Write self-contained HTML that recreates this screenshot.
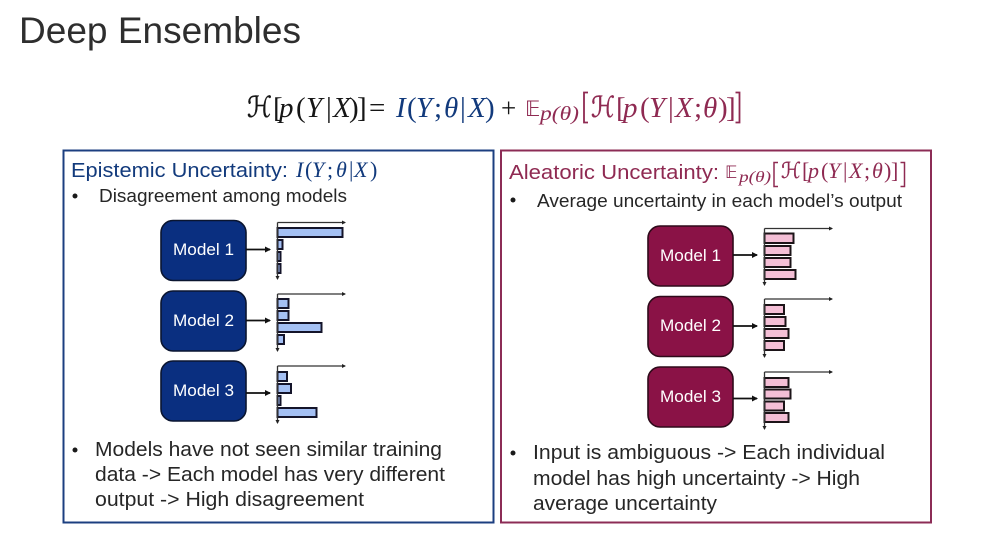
<!DOCTYPE html>
<html><head><meta charset="utf-8"><style>
html,body{margin:0;padding:0;background:#fff}
svg{display:block}
text{font-family:"Liberation Sans",sans-serif}
.m{font-family:"Liberation Serif",serif;font-style:italic}
.u{font-family:"Liberation Serif",serif}
.d{font-family:"DejaVu Sans",sans-serif}
.b{fill:#262626;font-size:20px}
.s{fill:#262626;font-size:18px}
.w{fill:#fff;font-size:17px}
</style></head><body>
<svg width="1000" height="553" viewBox="0 0 1000 553" xmlns="http://www.w3.org/2000/svg">
<defs>
<marker id="a" markerWidth="7" markerHeight="7" refX="5" refY="3" orient="auto" markerUnits="userSpaceOnUse"><path d="M0 0L6 3L0 6z" fill="#111"/></marker>
<marker id="t" markerWidth="5" markerHeight="5" refX="3" refY="2" orient="auto" markerUnits="userSpaceOnUse"><path d="M0 0L4 2L0 4z" fill="#222"/></marker>
</defs>
<rect width="1000" height="553" fill="#fff"/>
<text x="19" y="43" font-size="37" fill="#2e2e2e" textLength="282" lengthAdjust="spacingAndGlyphs">Deep Ensembles</text>

<!-- equation -->
<text x="247" y="117" font-size="29" class="u" fill="#161616" stroke="#161616" stroke-width=".4" textLength="25" lengthAdjust="spacingAndGlyphs">ℋ</text>
<text y="117" font-size="29" fill="#161616">
<tspan x="273" class="u">[</tspan><tspan x="279" class="m">p</tspan><tspan x="296" class="u">(</tspan><tspan x="306" class="m">Y</tspan><tspan x="326" class="u">|</tspan><tspan x="333" class="m">X</tspan><tspan x="349" class="u">)</tspan><tspan x="357" class="u">]</tspan><tspan x="369" class="u">=</tspan>
</text>
<text y="117" font-size="29" fill="#123a7c">
<tspan x="396" class="m">I</tspan><tspan x="407" class="u">(</tspan><tspan x="416" class="m">Y</tspan><tspan x="434" class="u">;</tspan><tspan x="444" class="m">θ</tspan><tspan x="460" class="u">|</tspan><tspan x="468" class="m">X</tspan><tspan x="485" class="u">)</tspan>
</text>
<text x="501" y="117" font-size="27" class="u" fill="#161616">+</text>
<text x="525" y="116" font-size="21" class="d" fill="#8f2a52">𝔼</text>
<text x="540" y="120" font-size="20" class="m" fill="#8f2a52" textLength="39" lengthAdjust="spacingAndGlyphs">p(θ)</text>
<text x="591" y="117" font-size="29" class="u" fill="#8f2a52" stroke="#8f2a52" stroke-width=".4" textLength="24" lengthAdjust="spacingAndGlyphs">ℋ</text>
<text y="117" font-size="29" fill="#8f2a52">
<tspan x="616" class="u">[</tspan><tspan x="623" class="m">p</tspan><tspan x="640" class="u">(</tspan><tspan x="649" class="m">Y</tspan><tspan x="668" class="u">|</tspan><tspan x="675" class="m">X</tspan><tspan x="694" class="u">;</tspan><tspan x="703" class="m">θ</tspan><tspan x="718" class="u">)</tspan><tspan x="726" class="u">]</tspan>
</text>
<path d="M588 92.5h-4v30h4M735.5 92.5h4v30h-4" fill="none" stroke="#8f2a52" stroke-width="1.8"/>

<!-- boxes -->
<rect x="63.5" y="150.5" width="430" height="372" fill="none" stroke="#1c3f80" stroke-width="2"/>
<rect x="501" y="150.5" width="430" height="372" fill="none" stroke="#8c2c56" stroke-width="2"/>

<!-- left text -->
<text x="71" y="177" font-size="20" fill="#123a7c" textLength="217" lengthAdjust="spacingAndGlyphs">Epistemic Uncertainty:</text>
<text y="177" font-size="22" fill="#123a7c"><tspan x="296" class="m">I</tspan><tspan x="305" class="u">(</tspan><tspan x="312" class="m">Y</tspan><tspan x="327" class="u">;</tspan><tspan x="336" class="m">θ</tspan><tspan x="349" class="u">|</tspan><tspan x="354" class="m">X</tspan><tspan x="370" class="u">)</tspan></text>
<circle cx="75" cy="196" r="2.5" fill="#1a1a1a"/>
<text x="99" y="202" class="s" textLength="248" lengthAdjust="spacingAndGlyphs">Disagreement among models</text>
<circle cx="75" cy="450" r="2.5" fill="#1a1a1a"/>
<text x="95" y="456" class="b" textLength="347" lengthAdjust="spacingAndGlyphs">Models have not seen similar training</text>
<text x="95" y="481" class="b" textLength="350" lengthAdjust="spacingAndGlyphs">data -&gt; Each model has very different</text>
<text x="95" y="506" class="b" textLength="269" lengthAdjust="spacingAndGlyphs">output -&gt; High disagreement</text>

<!-- right text -->
<text x="509" y="179" font-size="20" fill="#8f2a52" textLength="210" lengthAdjust="spacingAndGlyphs">Aleatoric Uncertainty:</text>
<text x="725" y="178" font-size="17" class="d" fill="#8f2a52">𝔼</text>
<text x="739" y="182" font-size="16" class="m" fill="#8f2a52" textLength="32" lengthAdjust="spacingAndGlyphs">p(θ)</text>
<path d="M778 162.5h-4v24h4M900.5 162.5h4v24h-4" fill="none" stroke="#8f2a52" stroke-width="1.5"/>
<text x="781" y="178" font-size="22" class="u" fill="#8f2a52" stroke="#8f2a52" stroke-width=".3" textLength="20" lengthAdjust="spacingAndGlyphs">ℋ</text>
<text y="178" font-size="22" fill="#8f2a52"><tspan x="802" class="u">[</tspan><tspan x="808" class="m">p</tspan><tspan x="821" class="u">(</tspan><tspan x="828" class="m">Y</tspan><tspan x="843" class="u">|</tspan><tspan x="849" class="m">X</tspan><tspan x="864" class="u">;</tspan><tspan x="872" class="m">θ</tspan><tspan x="884" class="u">)</tspan><tspan x="891" class="u">]</tspan></text>
<circle cx="513" cy="200" r="2.5" fill="#1a1a1a"/>
<text x="537" y="207" class="s" textLength="365" lengthAdjust="spacingAndGlyphs">Average uncertainty in each model’s output</text>
<circle cx="513" cy="453" r="2.5" fill="#1a1a1a"/>
<text x="533" y="459" class="b" textLength="352" lengthAdjust="spacingAndGlyphs">Input is ambiguous -&gt; Each individual</text>
<text x="533" y="485" class="b" textLength="327" lengthAdjust="spacingAndGlyphs">model has high uncertainty -&gt; High</text>
<text x="533" y="510" class="b" textLength="184" lengthAdjust="spacingAndGlyphs">average uncertainty</text>

<!-- left models -->
<g fill="#0a2f80" stroke="#0a1530" stroke-width="1.6">
<rect x="161" y="220.5" width="85" height="60" rx="12"/>
<rect x="161" y="291" width="85" height="60" rx="12"/>
<rect x="161" y="361" width="85" height="60" rx="12"/>
</g>
<text x="173" y="255" class="w" textLength="61" lengthAdjust="spacingAndGlyphs">Model 1</text>
<text x="173" y="326" class="w" textLength="61" lengthAdjust="spacingAndGlyphs">Model 2</text>
<text x="173" y="396" class="w" textLength="61" lengthAdjust="spacingAndGlyphs">Model 3</text>
<g stroke="#111" stroke-width="1.7" fill="none">
<line x1="246" y1="249.5" x2="270" y2="249.5" marker-end="url(#a)"/>
<line x1="246" y1="320.5" x2="270" y2="320.5" marker-end="url(#a)"/>
<line x1="246" y1="393" x2="270" y2="393" marker-end="url(#a)"/>
</g>
<g fill="#a4c0f4" stroke="#14142a" stroke-width="2">
<rect x="277.5" y="228" width="65" height="9"/><rect x="277.5" y="240" width="5" height="9"/><rect x="277.5" y="252" width="3" height="9"/><rect x="277.5" y="264" width="3" height="9"/>
<rect x="277.5" y="299" width="11" height="9"/><rect x="277.5" y="311" width="11" height="9"/><rect x="277.5" y="323" width="44" height="9"/><rect x="277.5" y="335" width="6.5" height="9"/>
<rect x="277.5" y="372" width="9.5" height="9"/><rect x="277.5" y="384" width="13.5" height="9"/><rect x="277.5" y="396" width="3" height="9"/><rect x="277.5" y="408" width="39" height="9"/>
</g>
<g stroke="#333" stroke-width="1.3" fill="none">
<path d="M277.5 222.5H345" marker-end="url(#t)"/><path d="M277.5 222.5V279" marker-end="url(#t)"/>
<path d="M277.5 294H345" marker-end="url(#t)"/><path d="M277.5 294V351" marker-end="url(#t)"/>
<path d="M277.5 366H345" marker-end="url(#t)"/><path d="M277.5 366V423" marker-end="url(#t)"/>
</g>

<!-- right models -->
<g fill="#8a1246" stroke="#2e0a1a" stroke-width="1.6">
<rect x="648" y="226" width="85" height="60" rx="12"/>
<rect x="648" y="296.5" width="85" height="60" rx="12"/>
<rect x="648" y="367" width="85" height="60" rx="12"/>
</g>
<text x="660" y="261" class="w" textLength="61" lengthAdjust="spacingAndGlyphs">Model 1</text>
<text x="660" y="331" class="w" textLength="61" lengthAdjust="spacingAndGlyphs">Model 2</text>
<text x="660" y="402" class="w" textLength="61" lengthAdjust="spacingAndGlyphs">Model 3</text>
<g stroke="#111" stroke-width="1.7" fill="none">
<line x1="733" y1="255" x2="757" y2="255" marker-end="url(#a)"/>
<line x1="733" y1="326" x2="757" y2="326" marker-end="url(#a)"/>
<line x1="733" y1="398.5" x2="757" y2="398.5" marker-end="url(#a)"/>
</g>
<g fill="#f4bfd6" stroke="#1c1418" stroke-width="2">
<rect x="764.5" y="233.5" width="29" height="9.5"/><rect x="764.5" y="246" width="26" height="9"/><rect x="764.5" y="258" width="26" height="9"/><rect x="764.5" y="270" width="31" height="9"/>
<rect x="764.5" y="305" width="19.5" height="9"/><rect x="764.5" y="317" width="21" height="9"/><rect x="764.5" y="329" width="24" height="9"/><rect x="764.5" y="341" width="19.5" height="9"/>
<rect x="764.5" y="378" width="24" height="9"/><rect x="764.5" y="389.5" width="26" height="9"/><rect x="764.5" y="401.5" width="19.5" height="9"/><rect x="764.5" y="413" width="24" height="9"/>
</g>
<g stroke="#333" stroke-width="1.3" fill="none">
<path d="M764.5 228.5H832" marker-end="url(#t)"/><path d="M764.5 228.5V285" marker-end="url(#t)"/>
<path d="M764.5 299H832" marker-end="url(#t)"/><path d="M764.5 299V357" marker-end="url(#t)"/>
<path d="M764.5 372H832" marker-end="url(#t)"/><path d="M764.5 372V429" marker-end="url(#t)"/>
</g>
</svg>
</body></html>
